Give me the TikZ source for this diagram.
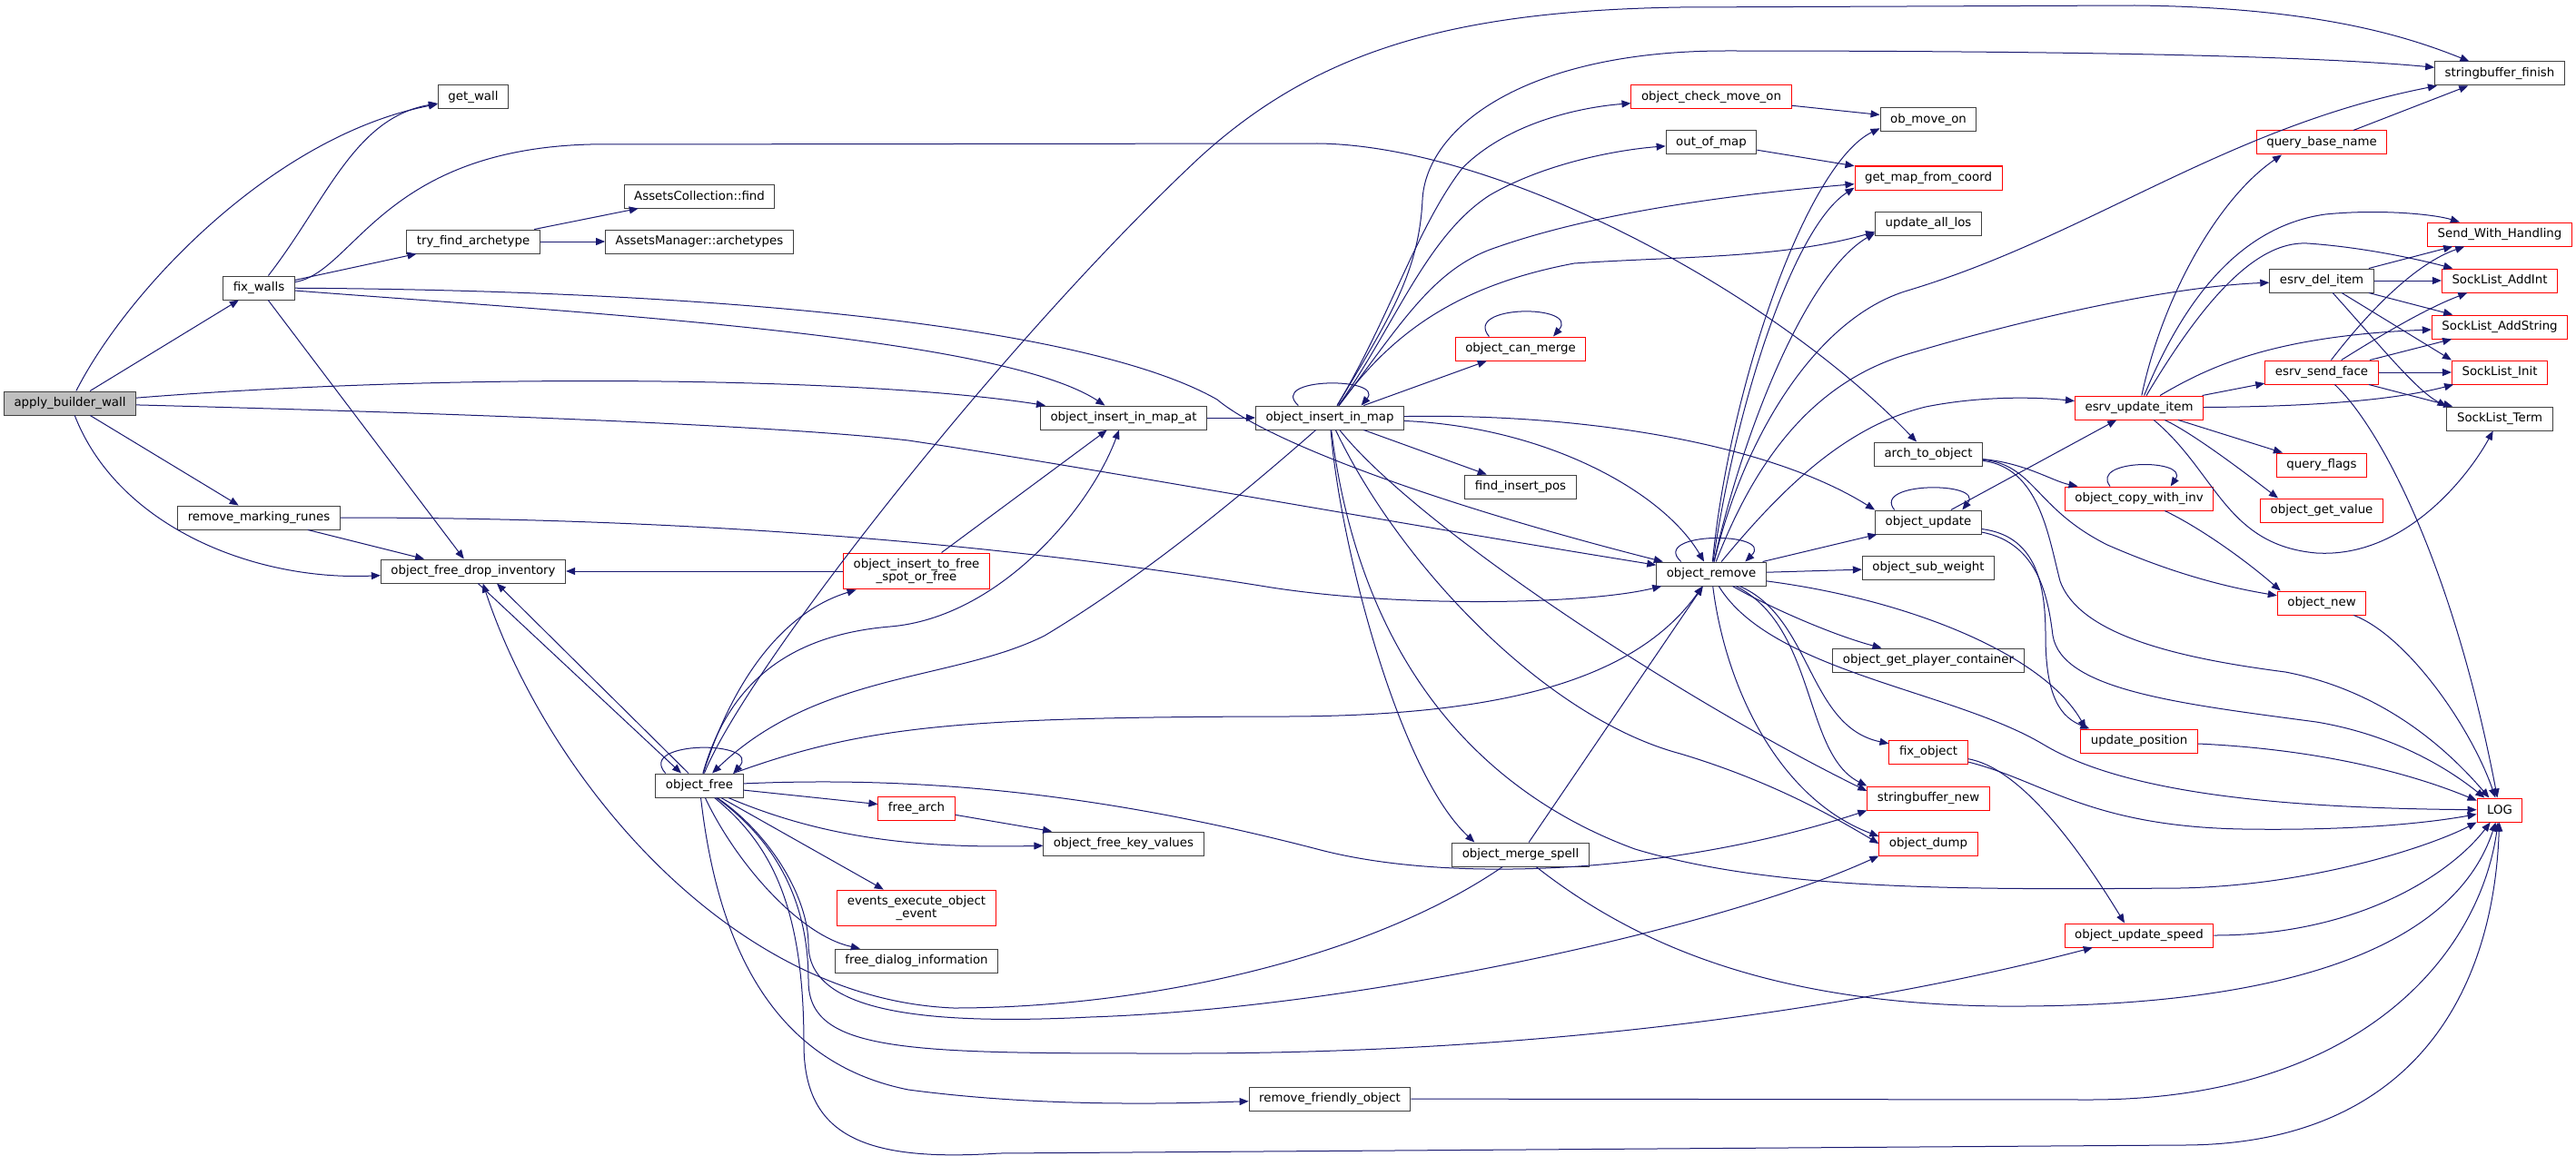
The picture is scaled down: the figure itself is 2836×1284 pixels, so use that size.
\documentclass[tikz,border=0pt]{standalone}
\usepackage{fontspec}
\setmainfont{DejaVu Sans}
\usepackage{tikz}
\usetikzlibrary{arrows.meta}
\definecolor{edgeblue}{HTML}{191970}
\definecolor{boxgrey}{HTML}{404040}
\definecolor{rootgrey}{HTML}{BFBFBF}
\definecolor{boxred}{HTML}{FF0000}
\tikzset{
   fn/.style={draw=boxgrey, line width=0.75pt, fill=white, rectangle,
           minimum height=19.5pt, inner xsep=8.3pt, inner ysep=2pt,
           font=\fontsize{10}{11}\selectfont},
   fnred/.style={fn, draw=boxred},
   fnroot/.style={fn, fill=rootgrey},
   fntwo/.style={align=center, inner ysep=4.5pt},
   calls/.style={draw=edgeblue, line width=0.75pt, -{Triangle[length=7.5pt,width=6pt]}},
}

\begin{document}
\begin{tikzpicture}[x=0.75pt, y=-0.75pt]
    \useasboundingbox (0,0) rectangle (2836,1284);

    \node[fnroot] (abw) at (77,444) {apply\_builder\_wall};
    \node[fn] (fixwalls) at (285,317) {fix\_walls};
    \node[fn] (rmruns) at (285,570) {remove\_marking\_runes};
    \node[fn] (getwall) at (521,107) {get\_wall};
    \node[fn] (tryfind) at (521,266) {try\_find\_archetype};
    \node[fn] (ofdi) at (521,629) {object\_free\_drop\_inventory};
    \node[fn] (assetsfind) at (770,216) {AssetsCollection::find};
    \node[fn] (assetsarch) at (770,266) {AssetsManager::archetypes};
    \node[fn] (ofree) at (770,865) {object\_free};
    \node[fnred, fntwo] (oitf) at (1009,629) {object\_insert\_to\_free\\\_spot\_or\_free};
    \node[fnred] (freearch) at (1009,890) {free\_arch};
    \node[fnred, fntwo] (eeoe) at (1009,1000) {events\_execute\_object\\\_event};
    \node[fn] (fdi) at (1009,1058) {free\_dialog\_information};
    \node[fn] (oimat) at (1237,460) {object\_insert\_in\_map\_at};
    \node[fn] (ofkv) at (1237,929) {object\_free\_key\_values};
    \node[fn] (oiim) at (1464,460) {object\_insert\_in\_map};
    \node[fn] (rfo) at (1464,1210) {remove\_friendly\_object};
    \node[fnred] (ocm) at (1674,384) {object\_can\_merge};
    \node[fn] (fip) at (1674,536) {find\_insert\_pos};
    \node[fn] (oms) at (1674,941) {object\_merge\_spell};
    \node[fnred] (ocmo) at (1884,107) {object\_check\_move\_on};
    \node[fn] (oom) at (1884,157) {out\_of\_map};
    \node[fn] (oremove) at (1884,632) {object\_remove};
    \node[fn] (obmo) at (2123,132) {ob\_move\_on};
    \node[fnred] (gmfc) at (2123,196) {get\_map\_from\_coord};
    \node[fn] (ualos) at (2123,246) {update\_all\_los};
    \node[fn] (a2o) at (2123,500) {arch\_to\_object};
    \node[fn] (oupdate) at (2123,575) {object\_update};
    \node[fn] (osw) at (2123,625) {object\_sub\_weight};
    \node[fn] (ogpc) at (2123,727) {object\_get\_player\_container};
    \node[fnred] (fixobj) at (2123,828) {fix\_object};
    \node[fnred] (sbnew) at (2123,879) {stringbuffer\_new};
    \node[fnred] (odump) at (2123,929) {object\_dump};
    \node[fnred] (eui) at (2355,449) {esrv\_update\_item};
    \node[fnred] (ocwi) at (2355,549) {object\_copy\_with\_inv};
    \node[fnred] (upos) at (2355,816) {update\_position};
    \node[fnred] (ous) at (2355,1030) {object\_update\_speed};
    \node[fnred] (qbn) at (2556,157) {query\_base\_name};
    \node[fn] (edi) at (2556,309) {esrv\_del\_item};
    \node[fnred] (esf) at (2556,410) {esrv\_send\_face};
    \node[fnred] (qflags) at (2556,512) {query\_flags};
    \node[fnred] (ogv) at (2556,562) {object\_get\_value};
    \node[fnred] (onew) at (2556,664) {object\_new};
    \node[fn] (sbfin) at (2752,81) {stringbuffer\_finish};
    \node[fnred] (swh) at (2752,258) {Send\_With\_Handling};
    \node[fnred] (slai) at (2752,309) {SockList\_AddInt};
    \node[fnred] (slas) at (2752,360) {SockList\_AddString};
    \node[fnred] (sli) at (2752,410) {SockList\_Init};
    \node[fn] (slt) at (2752,461) {SockList\_Term};
    \node[fnred] (logfn) at (2752,892) {LOG};

    \draw[calls] (abw) .. controls (140,320) and (300,150) .. (getwall);
    \draw[calls] (abw) -- (fixwalls);
    \draw[calls] (abw) .. controls (500,410) and (950,415) .. (oimat);
    \draw[calls] (abw) .. controls (500,455) and (850,468) .. (1000,485) .. controls (1200,515) and (1500,570) .. (oremove);
    \draw[calls] (abw) -- (rmruns);
    \draw[calls] (abw) .. controls (130,580) and (280,640) .. (ofdi);

    \draw[calls] (fixwalls) .. controls (360,220) and (390,130) .. (getwall);
    \draw[calls] (fixwalls) -- (tryfind);
    \draw[calls] (fixwalls) .. controls (390,300) and (420,165) .. (650,159) -- (1450,158) .. controls (1650,160) and (1950,320) .. (a2o);
    \draw[calls] (fixwalls) .. controls (650,345) and (1100,370) .. (oimat);
    \draw[calls] (fixwalls) .. controls (800,320) and (1200,360) .. (1340,440) .. controls (1400,490) and (1600,560) .. (oremove);
    \draw[calls] (fixwalls) -- (ofdi);

    \draw[calls] (rmruns) -- (ofdi);
    \draw[calls] (rmruns) .. controls (700,570) and (1050,590) .. (1400,647) .. controls (1550,670) and (1750,665) .. (oremove);

    \draw[calls] (tryfind) -- (assetsfind);
    \draw[calls] (tryfind) -- (assetsarch);

    \draw[calls] ([xshift=4pt]ofdi.south) -- ([xshift=-15pt]ofree.north);
    \draw[calls] (oitf) -- (ofdi);
    \draw[calls] (oitf) -- (oimat);
    \draw[calls] (oimat) -- (oiim);

    \draw[calls] ([xshift=-28pt]ofree.north) .. controls (700,815) and (840,815) .. ([xshift=28pt]ofree.north);
    \draw[calls] ([xshift=-9pt]ofree.north) -- ([xshift=19.5pt]ofdi.south);
    \draw[calls] (ofree) .. controls (800,770) and (850,678) .. (oitf);
    \draw[calls] (ofree) .. controls (820,740) and (1100,380) .. (1320,174) .. controls (1450,55) and (1600,12) .. (1850,8) -- (2350,6) .. controls (2550,8) and (2650,40) .. (sbfin);
    \draw[calls] (ofree) .. controls (800,760) and (860,700) .. (980,690) .. controls (1100,680) and (1200,560) .. (oimat);
    \draw[calls] (ofree) .. controls (950,800) and (1050,790) .. (1400,789) .. controls (1650,790) and (1800,750) .. (oremove);
    \draw[calls] (ofree) -- (freearch);
    \draw[calls] (ofree) .. controls (900,920) and (1000,935) .. (ofkv);
    \draw[calls] (ofree) -- (eeoe);
    \draw[calls] (ofree) .. controls (810,950) and (880,1030) .. (fdi);
    \draw[calls] (ofree) .. controls (850,920) and (890,990) .. (890,1040) .. controls (890,1110) and (1000,1130) .. (1200,1120) .. controls (1500,1110) and (1900,1020) .. (odump.south west);
    \draw[calls] (ofree) .. controls (1000,855) and (1200,870) .. (1450,935) .. controls (1600,975) and (1850,960) .. (sbnew.south west);
    \draw[calls] (ofree) .. controls (860,930) and (890,1000) .. (890,1080) .. controls (890,1160) and (1000,1160) .. (1300,1160) .. controls (1800,1160) and (2150,1084) .. (ous);
    \draw[calls] (ofree) .. controls (790,1040) and (850,1170) .. (1000,1200) .. controls (1150,1220) and (1300,1215) .. (rfo);
    \draw[calls] (ofree) .. controls (850,930) and (885,1000) .. (885,1150) .. controls (885,1250) and (950,1280) .. (1100,1270) -- (2400,1261) .. controls (2650,1262) and (2745,1100) .. (logfn);
    \draw[calls] (freearch) -- (ofkv);

    \draw[calls] ([xshift=-26pt]oiim.north) .. controls (1395,415) and (1525,415) .. ([xshift=26pt]oiim.north);
    \draw[calls] (oiim) .. controls (1350,560) and (1250,640) .. (1150,700) .. controls (1050,750) and (900,740) .. (ofree);
    \draw[calls] (oiim) .. controls (1530,350) and (1562,300) .. (1566,220) .. controls (1570,140) and (1680,56) .. (1900,56) .. controls (2300,56) and (2550,62) .. (sbfin);
    \draw[calls] (oiim) .. controls (1530,350) and (1560,250) .. (1610,185) .. controls (1660,135) and (1740,118) .. (ocmo);
    \draw[calls] (oiim) .. controls (1535,360) and (1570,260) .. (1640,215) .. controls (1700,180) and (1780,165) .. (oom);
    \draw[calls] (oiim) .. controls (1540,360) and (1575,300) .. (1640,275) .. controls (1750,235) and (1900,215) .. ([yshift=-5pt]gmfc.west);
    \draw[calls] (oiim) .. controls (1530,370) and (1600,315) .. (1733,290) .. controls (1850,282) and (1960,285) .. ([yshift=-7pt]ualos.west);
    \draw[calls] (oiim) -- (ocm);
    \draw[calls] (oiim) -- (fip);
    \draw[calls] (oiim) .. controls (1700,470) and (1830,540) .. (oremove);
    \draw[calls] (oiim) .. controls (1750,455) and (1950,490) .. (oupdate.north west);
    \draw[calls] (oiim) .. controls (1475,600) and (1540,850) .. ([xshift=-38pt]oms.north);
    \draw[calls] (oiim) .. controls (1560,580) and (1850,770) .. ([yshift=6pt]sbnew.west);
    \draw[calls] (oiim) .. controls (1540,620) and (1700,790) .. (1850,830) .. controls (1950,860) and (2020,900) .. (odump.west);
    \draw[calls] (oiim) .. controls (1500,750) and (1650,880) .. (1800,935) .. controls (1950,980) and (2150,980) .. (2400,978) .. controls (2550,975) and (2680,930) .. (logfn);
    \draw[calls] ([xshift=-26pt]ocm.north) .. controls (1610,335) and (1740,335) .. ([xshift=27pt]ocm.north);

    \draw[calls] ([xshift=-25pt]oremove.north) .. controls (1815,585) and (1955,585) .. ([xshift=28pt]oremove.north);
    \draw[calls] (oremove) .. controls (1905,420) and (1990,180) .. ([yshift=-7pt]obmo.west);
    \draw[calls] (oremove) .. controls (1912,440) and (1975,250) .. ([yshift=-8pt]gmfc.west);
    \draw[calls] (oremove) .. controls (1920,470) and (1990,300) .. ([yshift=-8pt]ualos.west);
    \draw[calls] (oremove) .. controls (1920,480) and (2000,350) .. (2100,320) .. controls (2300,260) and (2450,140) .. (sbfin);
    \draw[calls] (oremove) .. controls (1935,500) and (2000,420) .. (2100,390) .. controls (2250,345) and (2400,315) .. (edi);
    \draw[calls] (oremove) .. controls (1960,540) and (2030,470) .. (2120,448) .. controls (2180,436) and (2240,437) .. (eui);
    \draw[calls] (oremove) -- (oupdate);
    \draw[calls] (oremove) -- (osw);
    \draw[calls] (oremove) .. controls (1950,670) and (2020,700) .. (ogpc);
    \draw[calls] (oremove) .. controls (1995,680) and (1990,800) .. (fixobj);
    \draw[calls] (oremove) .. controls (2000,690) and (1985,830) .. (sbnew.north west);
    \draw[calls] (oremove) .. controls (1900,760) and (1960,880) .. ([yshift=6pt]odump.west);
    \draw[calls] (oremove) .. controls (1950,740) and (2150,760) .. (2250,820) .. controls (2350,880) and (2550,890) .. (logfn);
    \draw[calls] (oremove) .. controls (2100,660) and (2250,720) .. ([xshift=-44pt]upos.north);

    \draw[calls] (oms) -- (oremove);
    \draw[calls] (oms) .. controls (1500,1060) and (1250,1110) .. (1050,1110) .. controls (800,1100) and (600,850) .. ([xshift=8pt]ofdi.south);
    \draw[calls] (oms) .. controls (1800,1040) and (1950,1105) .. (2200,1108) .. controls (2500,1110) and (2700,1050) .. (logfn);
    \draw[calls] (rfo) -- (2300,1211) .. controls (2600,1211) and (2730,1050) .. (logfn);

    \draw[calls] (ocmo) -- (obmo);
    \draw[calls] (oom) -- (gmfc);

    \draw[calls] (a2o) .. controls (2230,510) and (2260,530) .. (ocwi);
    \draw[calls] (a2o) .. controls (2240,512) and (2240,560) .. (2320,600) .. controls (2400,635) and (2460,648) .. (onew);
    \draw[calls] (a2o) .. controls (2245,515) and (2255,590) .. (2268,640) .. controls (2290,700) and (2400,725) .. (2516,740) .. controls (2620,760) and (2690,820) .. (logfn);

    \draw[calls] ([xshift=-28pt]oupdate.north) .. controls (2060,530) and (2185,530) .. ([xshift=28pt]oupdate.north);
    \draw[calls] (oupdate) -- (eui);
    \draw[calls] (oupdate) .. controls (2240,590) and (2252,640) .. (2252,700) .. controls (2252,770) and (2270,790) .. ([xshift=-41pt]upos.north);
    \draw[calls] (oupdate) .. controls (2245,598) and (2255,660) .. (2260,700) .. controls (2270,760) and (2400,775) .. (2550,795) .. controls (2640,810) and (2700,850) .. (logfn);

    \draw[calls] ([xshift=-24pt]ocwi.north) .. controls (2300,505) and (2410,505) .. ([xshift=26pt]ocwi.north);
    \draw[calls] (ocwi) .. controls (2420,580) and (2470,615) .. ([xshift=-34pt]onew.north);
    \draw[calls] (onew) .. controls (2650,700) and (2720,800) .. (logfn);

    \draw[calls] (eui) .. controls (2380,330) and (2440,220) .. ([xshift=-33pt]qbn.south);
    \draw[calls] (eui) .. controls (2400,340) and (2460,250) .. (2560,236) .. controls (2620,230) and (2680,236) .. (swh);
    \draw[calls] (eui) .. controls (2420,340) and (2480,265) .. (2540,268) .. controls (2600,272) and (2660,285) .. (slai);
    \draw[calls] (eui) .. controls (2430,405) and (2500,370) .. (slas);
    \draw[calls] (eui) -- (esf);
    \draw[calls] (eui) .. controls (2500,448) and (2620,445) .. (sli);
    \draw[calls] (eui) .. controls (2440,520) and (2450,600) .. (2550,609) .. controls (2650,615) and (2720,520) .. (slt);
    \draw[calls] (eui) -- (qflags);
    \draw[calls] (eui) .. controls (2420,480) and (2490,535) .. ([xshift=-36pt]ogv.north);

    \draw[calls] (edi) -- (swh);
    \draw[calls] (edi) -- (slai);
    \draw[calls] (edi) -- (slas);
    \draw[calls] (edi) -- (sli.north west);
    \draw[calls] (edi) .. controls (2620,380) and (2660,430) .. (slt.north west);

    \draw[calls] (esf) .. controls (2610,340) and (2660,290) .. (swh);
    \draw[calls] (esf) .. controls (2620,370) and (2670,340) .. (slai);
    \draw[calls] (esf) -- (slas);
    \draw[calls] (esf) -- (sli);
    \draw[calls] (esf) -- (slt);
    \draw[calls] (esf) .. controls (2620,470) and (2700,620) .. (logfn);

    \draw[calls] (qbn) -- (sbfin);
    \draw[calls] (fixobj) .. controls (2220,845) and (2280,920) .. ([xshift=-12pt]ous.north);
    \draw[calls] (fixobj) .. controls (2250,860) and (2300,910) .. (2469,913) .. controls (2600,915) and (2680,905) .. (logfn);
    \draw[calls] (upos) .. controls (2550,825) and (2650,850) .. (logfn);
    \draw[calls] (ous) .. controls (2600,1030) and (2700,960) .. (logfn);

\end{tikzpicture}
\end{document}
